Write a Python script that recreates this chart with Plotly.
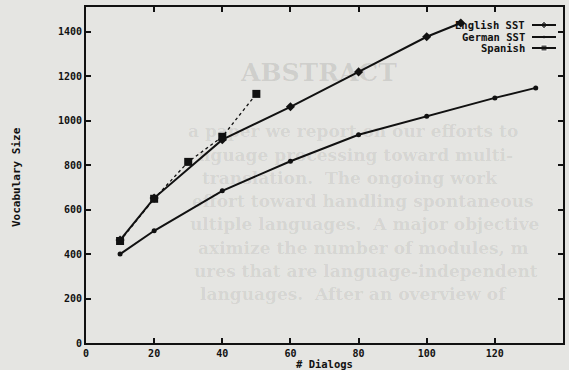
import plotly.graph_objects as go

# ---- data ----
english_x = [10, 20, 40, 60, 80, 100, 110]
english_y = [463, 652, 915, 1063, 1220, 1378, 1440]
german_x = [10, 20, 40, 60, 80, 100, 120, 132]
german_y = [400, 505, 685, 818, 937, 1020, 1103, 1148]
spanish_x = [10, 20, 30, 40, 50]
spanish_y = [459, 649, 815, 928, 1121]
series_names = ["English SST", "German SST", "Spanish"]
x_ticks = [0, 20, 40, 60, 80, 100, 120, 140]
y_ticks = [0, 200, 400, 600, 800, 1000, 1200, 1400]

# faint show-through text of the scanned page
bleed_title = "ABSTRACT"
bleed_lines = [
    "a paper we report on our efforts to",
    "nguage processing toward multi-",
    "translation.  The ongoing work",
    "effort toward handling spontaneous",
    "ultiple languages.  A major objective",
    "aximize the number of modules, m",
    "ures that are language-independent",
    "languages.  After an overview of",
]

W, H = 569, 370
ML, MR, MT, MB = 86, 6, 7, 27
PW, PH = W - ML - MR, H - MT - MB


def px2paper(px, py):
    return (px - ML) / PW, (H - MB - py) / PH


PAPER = "#e5e5e2"
INK = "#111111"
FONT = dict(family="DejaVu Sans Mono", size=10, color=INK, weight="bold")

fig = go.Figure()
ann = []

# bleed-through text, very faint
tx, ty = px2paper(318, 72)
ann.append(dict(text=bleed_title, x=tx, y=ty, xref="paper", yref="paper", showarrow=False,
                font=dict(family="DejaVu Serif", size=25, color="rgba(0,0,0,0.10)"),
                xanchor="center", yanchor="middle"))
bleed_x = [186, 196, 200, 190, 188, 196, 192, 198]
bleed_y = [131, 155, 178, 201, 224, 248, 271, 294]
for t, bx, by in zip(bleed_lines, bleed_x, bleed_y):
    ax_, ay_ = px2paper(bx, by)
    ann.append(dict(text=t, x=ax_, y=ay_, xref="paper", yref="paper", showarrow=False,
                    font=dict(family="DejaVu Serif", size=17, color="rgba(0,0,0,0.08)"),
                    xanchor="left", yanchor="middle"))

fig.add_trace(go.Scatter(x=english_x, y=english_y, mode="lines+markers", name=series_names[0],
                         line=dict(color=INK, width=2),
                         marker=dict(symbol="diamond", size=7, color=INK), showlegend=False))
fig.add_trace(go.Scatter(x=german_x, y=german_y, mode="lines+markers", name=series_names[1],
                         line=dict(color=INK, width=2),
                         marker=dict(symbol="circle", size=5, color=INK), showlegend=False))
fig.add_trace(go.Scatter(x=spanish_x, y=spanish_y, mode="lines+markers", name=series_names[2],
                         line=dict(color=INK, width=1.3, dash="dot"),
                         marker=dict(symbol="square", size=8, color=INK), showlegend=False))

# custom legend: text on the left, sample on the right (gnuplot style)
leg_py = [25, 37, 48]
leg_sym = ["diamond", "circle", "square"]
leg_size = [6, 4, 6]
shapes = []
lx_text, _ = px2paper(527, 0)
lx0, _ = px2paper(532, 0)
lx1, _ = px2paper(556, 0)
lxm, _ = px2paper(544, 0)
leg_y = []
for name, lpy in zip(series_names, leg_py):
    _, ly = px2paper(0, lpy)
    leg_y.append(ly)
    ann.append(dict(text=name, x=lx_text, y=ly, xref="paper", yref="paper", showarrow=False,
                    xanchor="right", yanchor="middle",
                    font=dict(family="DejaVu Sans Mono", size=10.5, color=INK, weight="bold")))
    shapes.append(dict(type="line", x0=lx0, x1=lx1, y0=ly, y1=ly, xref="paper", yref="paper",
                       line=dict(color=INK, width=2)))
fig.add_trace(go.Scatter(x=[lxm] * 3, y=leg_y, xaxis="x2", yaxis="y2", mode="markers",
                         marker=dict(symbol=leg_sym, size=leg_size, color=INK),
                         showlegend=False, hoverinfo="skip"))

# axis titles
tx, ty = px2paper(324, 364)
ann.append(dict(text="# Dialogs", x=tx, y=ty, xref="paper", yref="paper", showarrow=False,
                xanchor="center", yanchor="middle",
                font=dict(family="DejaVu Sans Mono", size=10.5, color=INK, weight="bold")))
tx, ty = px2paper(16, 177)
ann.append(dict(text="Vocabulary Size", x=tx, y=ty, xref="paper", yref="paper", showarrow=False,
                textangle=-90, xanchor="center", yanchor="middle",
                font=dict(family="DejaVu Sans Mono", size=11, color=INK, weight="bold")))

axis_common = dict(showgrid=False, zeroline=False, showline=True, linecolor=INK, linewidth=2,
                   mirror="ticks", ticks="inside", ticklen=5, tickwidth=2, tickcolor=INK,
                   tickfont=FONT, automargin=False)

fig.update_layout(
    width=W, height=H,
    margin=dict(l=ML, r=MR, t=MT, b=MB, autoexpand=False),
    paper_bgcolor=PAPER, plot_bgcolor=PAPER,
    font=FONT,
    xaxis=dict(range=[0, 140], tickvals=x_ticks, **axis_common),
    yaxis=dict(range=[0, 1512], tickvals=y_ticks, **axis_common),
    xaxis2=dict(range=[0, 1], overlaying="x", visible=False),
    yaxis2=dict(range=[0, 1], overlaying="y", visible=False),
    annotations=ann,
    shapes=shapes,
)

fig.write_html("out.html", config={"displayModeBar": False},
               post_script="document.body.style.margin='0px';")
